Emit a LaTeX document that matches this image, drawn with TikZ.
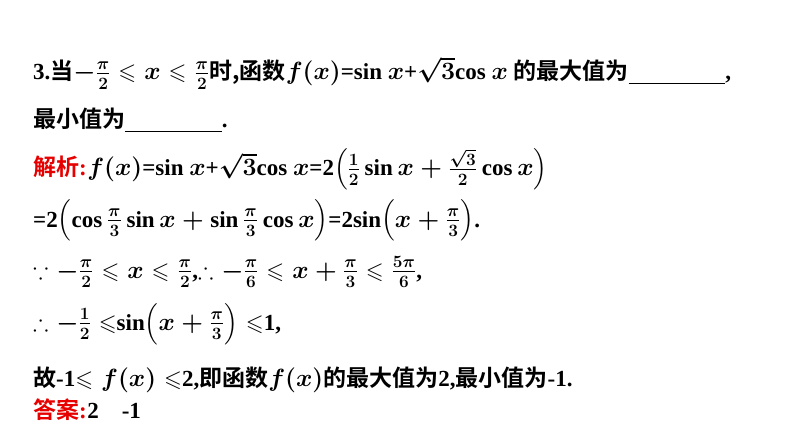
\documentclass[tikz,border=0pt]{standalone}
\usepackage{fontspec}
\setmainfont{Liberation Serif}
\newfontfamily\cjk{Noto Sans CJK SC}[BoldFont={Noto Sans CJK SC Bold}]
\usepackage{amsmath,amssymb}
\definecolor{keyred}{RGB}{230,0,0}

\begin{document}
\begin{tikzpicture}[x=1pt,y=-1pt]
    % settings
    \tikzset{
      every node/.style={anchor=base west, inner sep=0pt, font=\fontsize{23}{27}\selectfont\bfseries\boldmath},
      redtag/.style={text=keyred},
    }
    \useasboundingbox (0,0) rectangle (794,446);

    % question
    \node (q1) at (33,80) {3.{\cjk 当}$-\frac{\pi}{2}\leqslant x\leqslant\frac{\pi}{2}${\cjk 时,函数}$f(x)$=sin $x$+$\sqrt{3}$cos $x$ {\cjk 的最大值为}\underline{\hspace{4.2em}},};
    \node (q2) at (33,128) {{\cjk 最小值为}\underline{\hspace{4.2em}}.};

    % solution
    \node[redtag] (s0) at (33,176) {{\cjk 解析}:};
    \node (s1) at (s0.base east) {$f(x)$=sin $x$+$\sqrt{3}$cos $x$=2$\left(\frac{1}{2}\sin x+\frac{\sqrt{3}}{2}\cos x\right)$};
    \node (s2) at (33,227) {=2$\left(\cos\frac{\pi}{3}\sin x+\sin\frac{\pi}{3}\cos x\right)$=2sin$\left(x+\frac{\pi}{3}\right)$.};
    \node (s3) at (33,278) {$\because -\frac{\pi}{2}\leqslant x\leqslant\frac{\pi}{2}$,$\therefore -\frac{\pi}{6}\leqslant x+\frac{\pi}{3}\leqslant\frac{5\pi}{6}$,};
    \node (s4) at (33,330) {$\therefore -\frac{1}{2}\leqslant$sin$\left(x+\frac{\pi}{3}\right)\leqslant$1,};
    \node (s5) at (33,386) {{\cjk 故}-1$\leqslant f(x)\leqslant$2,{\cjk 即函数}$f(x)${\cjk 的最大值为}2,{\cjk 最小值为}-1.};

    % answer
    \node[redtag] (a0) at (33,418) {{\cjk 答案}:};
    \node (a1) at (a0.base east) {2\quad -1};
\end{tikzpicture}
\end{document}
